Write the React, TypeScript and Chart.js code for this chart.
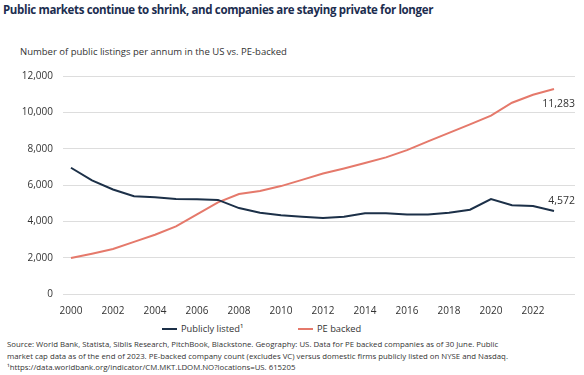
import React, { useEffect, useRef } from "react";
import { Chart, registerables } from "chart.js";

Chart.register(...registerables);

const years: number[] = [
  2000, 2001, 2002, 2003, 2004, 2005, 2006, 2007, 2008, 2009, 2010, 2011,
  2012, 2013, 2014, 2015, 2016, 2017, 2018, 2019, 2020, 2021, 2022, 2023,
];
const publiclyListed: number[] = [
  6950, 6250, 5750, 5380, 5320, 5230, 5210, 5180, 4730, 4470, 4340, 4250,
  4180, 4250, 4450, 4450, 4380, 4380, 4470, 4640, 5230, 4890, 4840, 4572,
];
const peBacked: number[] = [
  1980, 2220, 2480, 2870, 3260, 3720, 4380, 5040, 5500, 5670, 5940, 6280,
  6630, 6910, 7210, 7520, 7920, 8400, 8870, 9340, 9820, 10530, 10970, 11283,
];
const seriesNames: string[] = ["Publicly listed\u00b9", "PE backed"];
const yTicks: number[] = [0, 2000, 4000, 6000, 8000, 10000, 12000];
const xTickYears: number[] = [2000, 2002, 2004, 2006, 2008, 2010, 2012, 2014, 2016, 2018, 2020, 2022];

const NAVY = "#1c3048";
const SALMON = "#e5796b";
const FONT = "'Open Sans', 'Noto Sans', sans-serif";

const endLabels = {
  id: "endLabels",
  afterDatasetsDraw(chart: any) {
    const ctx = chart.ctx;
    const offsets = [-10, 15];
    chart.data.datasets.forEach((ds: any, i: number) => {
      const meta = chart.getDatasetMeta(i);
      const pt = meta.data[meta.data.length - 1];
      const val = ds.data[ds.data.length - 1].y;
      ctx.save();
      ctx.font = `10.5px ${FONT}`;
      ctx.fillStyle = "#333333";
      ctx.textAlign = "right";
      ctx.textBaseline = "middle";
      ctx.fillText(val.toLocaleString("en-US"), chart.chartArea.right, pt.y + offsets[i]);
      ctx.restore();
    });
  },
};

export default function App() {
  const ref = useRef<HTMLCanvasElement | null>(null);
  useEffect(() => {
    if (!ref.current) return;
    const idx = years.map((_, i) => i);
    const chart = new Chart(ref.current, {
      type: "line",
      data: {
        datasets: [
          {
            label: seriesNames[0],
            data: idx.map((i) => ({ x: i, y: publiclyListed[i] })),
            borderColor: NAVY,
            backgroundColor: NAVY,
            borderWidth: 2,
            pointRadius: 0,
            tension: 0,
          },
          {
            label: seriesNames[1],
            data: idx.map((i) => ({ x: i, y: peBacked[i] })),
            borderColor: SALMON,
            backgroundColor: SALMON,
            borderWidth: 2,
            pointRadius: 0,
            tension: 0,
          },
        ],
      },
      options: {
        animation: false,
        responsive: false,
        maintainAspectRatio: false,
        layout: { padding: { top: 8, right: 9, left: 0, bottom: 0 } },
        plugins: {
          legend: { display: false },
          tooltip: { enabled: false },
        },
        scales: {
          x: {
            type: "linear",
            min: -0.38,
            max: 24,
            grid: { display: false, drawTicks: false },
            border: { display: false },
            afterBuildTicks: (scale: any) => {
              scale.ticks = xTickYears.map((y) => ({ value: years.indexOf(y) }));
            },
            afterFit: (scale: any) => {
              scale.height = 26;
            },
            ticks: {
              autoSkip: false,
              maxRotation: 0,
              padding: 11,
              color: "#333333",
              font: { family: FONT, size: 10 },
              callback: (v: any) => String(years[Math.round(v)]),
            },
          },
          y: {
            min: 0,
            max: 12000,
            afterBuildTicks: (scale: any) => {
              scale.ticks = yTicks.map((v) => ({ value: v }));
            },
            afterFit: (scale: any) => {
              scale.width = 63;
            },
            grid: { color: "#dddddd", lineWidth: 1, drawTicks: false },
            border: { display: false },
            ticks: {
              padding: 10,
              color: "#333333",
              font: { family: FONT, size: 10 },
              callback: (v: any) => Number(v).toLocaleString("en-US"),
            },
          },
        },
      },
      plugins: [endLabels],
    });
    return () => chart.destroy();
  }, []);

  return (
    <div style={{ position: "fixed", left: 0, top: 0, width: 584, height: 375, background: "#ffffff", fontFamily: FONT, color: "#333333", overflow: "hidden" }}>
      <div style={{ position: "absolute", left: 3, top: 2, fontSize: 11.5, fontWeight: 700, color: "#1c2d4f", whiteSpace: "nowrap", lineHeight: "16px", letterSpacing: -0.36 }}>
        Public markets continue to shrink, and companies are staying private for longer
      </div>
      <div style={{ position: "absolute", left: 20, top: 45, fontSize: 9.5, whiteSpace: "nowrap", lineHeight: "14px" }}>
        Number of public listings per annum in the US vs. PE-backed
      </div>
      <canvas ref={ref} width={584} height={260} style={{ position: "absolute", left: 0, top: 60, width: 584, height: 260 }} />
      <div style={{ position: "absolute", left: 162, top: 321, fontSize: 9.3, lineHeight: "14px", whiteSpace: "nowrap" }}>
        <span style={{ display: "inline-block", width: 15, height: 2, background: NAVY, verticalAlign: "middle", marginRight: 4 }} />
        <span style={{ verticalAlign: "middle" }}>{seriesNames[0]}</span>
      </div>
      <div style={{ position: "absolute", left: 298, top: 321, fontSize: 9.3, lineHeight: "14px", whiteSpace: "nowrap" }}>
        <span style={{ display: "inline-block", width: 15, height: 2, background: SALMON, verticalAlign: "middle", marginRight: 4 }} />
        <span style={{ verticalAlign: "middle" }}>{seriesNames[1]}</span>
      </div>
      <div style={{ position: "absolute", left: 7, top: 339, fontSize: 7.8, lineHeight: "11.5px", whiteSpace: "nowrap", color: "#333333" }}>
        <div>Source: World Bank, Statista, Siblis Research, PitchBook, Blackstone. Geography: US. Data for PE backed companies as of 30 June. Public</div>
        <div>market cap data as of the end of 2023. PE-backed company count (excludes VC) versus domestic firms publicly listed on NYSE and Nasdaq.</div>
        <div>{"\u00b9https://data.worldbank.org/indicator/CM.MKT.LDOM.NO?locations=US. 615205"}</div>
      </div>
    </div>
  );
}
